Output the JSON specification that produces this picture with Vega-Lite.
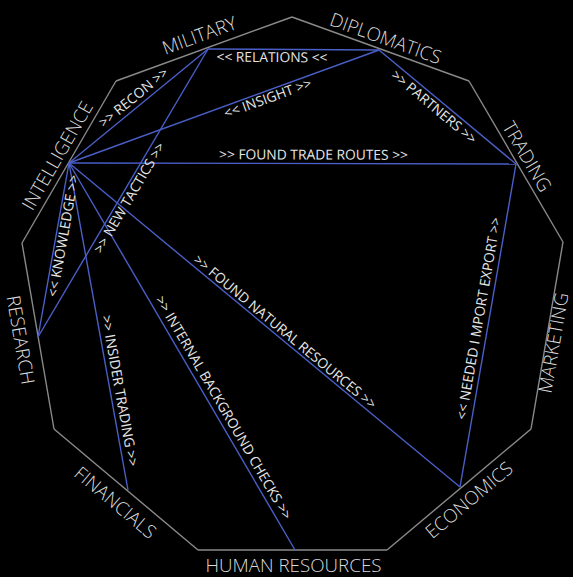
{
  "$schema": "https://vega.github.io/schema/vega-lite/v6.json",
  "width": 573,
  "height": 577,
  "padding": 0,
  "autosize": {"type": "none"},
  "background": "#000000",
  "config": {"view": {"stroke": null}},
  "datasets": {
    "sides": [
      {"label": "MILITARY", "x1": 116, "y1": 81, "x2": 292, "y2": 17, "lx": 199.5, "ly": 36},
      {"label": "DIPLOMATICS", "x1": 292, "y1": 17, "x2": 469, "y2": 81, "lx": 385.5, "ly": 39},
      {"label": "TRADING", "x1": 469, "y1": 81, "x2": 563, "y2": 242, "lx": 526.5, "ly": 157},
      {"label": "MARKETING", "x1": 563, "y1": 242, "x2": 531, "y2": 429, "lx": 554, "ly": 343},
      {"label": "ECONOMICS", "x1": 531, "y1": 429, "x2": 387, "y2": 550, "lx": 469.5, "ly": 500.5},
      {"label": "HUMAN RESOURCES", "x1": 387, "y1": 550, "x2": 198, "y2": 550, "lx": 293.5, "ly": 566},
      {"label": "FINANCIALS", "x1": 198, "y1": 550, "x2": 54, "y2": 429, "lx": 115, "ly": 503},
      {"label": "RESEARCH", "x1": 54, "y1": 429, "x2": 22, "y2": 243, "lx": 20, "ly": 340},
      {"label": "INTELLIGENCE", "x1": 22, "y1": 243, "x2": 116, "y2": 81, "lx": 58, "ly": 156}
    ],
    "links": [
      {"label": "<< RELATIONS <<", "x1": 208, "y1": 49, "x2": 379, "y2": 50, "lx": 272, "ly": 58},
      {"label": ">> RECON >>", "x1": 69, "y1": 163, "x2": 208, "y2": 49, "lx": 134, "ly": 98},
      {"label": "<< INSIGHT >>", "x1": 69, "y1": 163, "x2": 379, "y2": 50, "lx": 268, "ly": 99},
      {"label": ">> FOUND TRADE ROUTES >>", "x1": 69, "y1": 163, "x2": 516, "y2": 164, "lx": 313.5, "ly": 155.5},
      {"label": ">> NEW TACTICS >>", "x1": 208, "y1": 49, "x2": 38, "y2": 337, "lx": 130, "ly": 198},
      {"label": ">> PARTNERS >>", "x1": 379, "y1": 50, "x2": 516, "y2": 164, "lx": 433.5, "ly": 107.5},
      {"label": "<< KNOWLEDGE >>", "x1": 69, "y1": 163, "x2": 38, "y2": 337, "lx": 64, "ly": 236},
      {"label": ">> INSIDER TRADING >>", "x1": 69, "y1": 163, "x2": 128, "y2": 490, "lx": 119, "ly": 391},
      {"label": ">> INTERNAL BACKGROUND CHECKS >>", "x1": 69, "y1": 163, "x2": 295, "y2": 550, "lx": 223, "ly": 408},
      {"label": ">> FOUND  NATURAL RESOURCES >>", "x1": 69, "y1": 163, "x2": 460, "y2": 487, "lx": 284.5, "ly": 332.5},
      {"label": "<< NEEDED I MPORT EXPORT >>", "x1": 516, "y1": 164, "x2": 460, "y2": 487, "lx": 479.5, "ly": 318.5}
    ]
  },
  "layer": [
    {
      "data": {"name": "sides"},
      "mark": {"type": "rule", "color": "#8a8a8a", "strokeWidth": 1.4},
      "encoding": {
        "x": {"field": "x1", "type": "quantitative", "scale": {"domain": [0, 573], "nice": false, "zero": false}, "axis": null},
        "y": {"field": "y1", "type": "quantitative", "scale": {"domain": [0, 577], "nice": false, "zero": false, "reverse": true}, "axis": null},
        "x2": {"field": "x2"},
        "y2": {"field": "y2"}
      }
    },
    {
      "data": {"name": "links"},
      "mark": {"type": "rule", "color": "#4a5fc8", "strokeWidth": 1.4},
      "encoding": {
        "x": {"field": "x1", "type": "quantitative"},
        "y": {"field": "y1", "type": "quantitative"},
        "x2": {"field": "x2"},
        "y2": {"field": "y2"}
      }
    },
    {
      "data": {"name": "sides"},
      "transform": [
        {"calculate": "atan2(datum.y2 - datum.y1, datum.x2 - datum.x1) * 180 / PI", "as": "a0"},
        {"calculate": "datum.a0 > 90 ? datum.a0 - 180 : (datum.a0 < -90 ? datum.a0 + 180 : datum.a0)", "as": "ang"}
      ],
      "mark": {"type": "text", "font": "Open Sans", "fontSize": 18.8, "fontWeight": 300, "color": "#dadada", "align": "center", "baseline": "middle"},
      "encoding": {
        "x": {"field": "lx", "type": "quantitative"},
        "y": {"field": "ly", "type": "quantitative"},
        "angle": {"field": "ang", "type": "quantitative", "scale": null},
        "text": {"field": "label"}
      }
    },
    {
      "data": {"name": "links"},
      "transform": [
        {"calculate": "atan2(datum.y2 - datum.y1, datum.x2 - datum.x1) * 180 / PI", "as": "a0"},
        {"calculate": "datum.a0 > 90 ? datum.a0 - 180 : (datum.a0 < -90 ? datum.a0 + 180 : datum.a0)", "as": "ang"}
      ],
      "mark": {"type": "text", "font": "Open Sans", "fontSize": 13.8, "color": "#e6e6e6", "align": "center", "baseline": "middle"},
      "encoding": {
        "x": {"field": "lx", "type": "quantitative"},
        "y": {"field": "ly", "type": "quantitative"},
        "angle": {"field": "ang", "type": "quantitative", "scale": null},
        "text": {"field": "label"}
      }
    }
  ]
}
